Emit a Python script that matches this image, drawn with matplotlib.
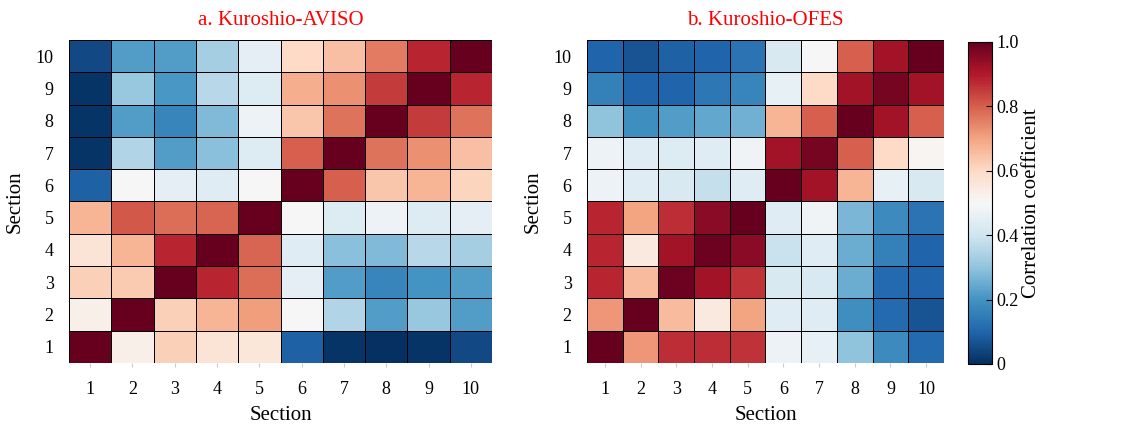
import matplotlib.pyplot as plt
import numpy as np

plt.rcParams["font.family"] = ["Liberation Serif", "DejaVu Serif"]

sections = [1, 2, 3, 4, 5, 6, 7, 8, 9, 10]

# rows are section 1..10 (bottom to top), columns section 1..10
aviso = np.array([
    [1.00, 0.53, 0.62, 0.57, 0.56, 0.09, 0.01, 0.00, 0.01, 0.05],
    [0.53, 1.00, 0.62, 0.67, 0.71, 0.50, 0.35, 0.22, 0.31, 0.22],
    [0.62, 0.63, 1.00, 0.88, 0.78, 0.45, 0.22, 0.17, 0.20, 0.22],
    [0.57, 0.67, 0.88, 1.00, 0.79, 0.44, 0.29, 0.28, 0.36, 0.33],
    [0.67, 0.81, 0.78, 0.79, 1.00, 0.50, 0.43, 0.47, 0.43, 0.45],
    [0.09, 0.50, 0.45, 0.44, 0.50, 1.00, 0.80, 0.64, 0.67, 0.61],
    [0.01, 0.35, 0.22, 0.29, 0.43, 0.80, 1.00, 0.77, 0.73, 0.65],
    [0.01, 0.22, 0.17, 0.28, 0.47, 0.64, 0.77, 1.00, 0.85, 0.77],
    [0.01, 0.31, 0.21, 0.36, 0.43, 0.68, 0.73, 0.85, 1.00, 0.88],
    [0.05, 0.22, 0.22, 0.33, 0.45, 0.60, 0.65, 0.76, 0.88, 1.00],
])

ofes = np.array([
    [1.00, 0.72, 0.87, 0.87, 0.86, 0.47, 0.46, 0.30, 0.18, 0.11],
    [0.72, 1.00, 0.66, 0.55, 0.70, 0.44, 0.44, 0.19, 0.11, 0.07],
    [0.88, 0.66, 0.99, 0.92, 0.86, 0.42, 0.42, 0.25, 0.11, 0.10],
    [0.88, 0.55, 0.92, 0.99, 0.95, 0.39, 0.44, 0.25, 0.16, 0.10],
    [0.88, 0.70, 0.87, 0.95, 1.00, 0.44, 0.48, 0.27, 0.18, 0.13],
    [0.47, 0.44, 0.42, 0.38, 0.44, 1.00, 0.92, 0.67, 0.46, 0.42],
    [0.47, 0.44, 0.43, 0.44, 0.48, 0.92, 0.98, 0.80, 0.60, 0.51],
    [0.30, 0.19, 0.22, 0.24, 0.26, 0.67, 0.80, 1.00, 0.92, 0.80],
    [0.16, 0.10, 0.10, 0.14, 0.17, 0.46, 0.60, 0.92, 0.98, 0.92],
    [0.10, 0.07, 0.09, 0.10, 0.13, 0.42, 0.50, 0.80, 0.92, 1.00],
])

panels = [("a. Kuroshio-AVISO", aviso), ("b. Kuroshio-OFES", ofes)]
cbar_ticks = [0, 0.2, 0.4, 0.6, 0.8, 1.0]
cbar_labels = ["0", "0.2", "0.4", "0.6", "0.8", "1.0"]

fig = plt.figure(figsize=(11.37, 4.25), dpi=100)
axes = [fig.add_axes([69 / 1137, 1 - 363 / 425, 423 / 1137, 323 / 425]),
        fig.add_axes([587 / 1137, 1 - 363 / 425, 357 / 1137, 323 / 425])]
cax = fig.add_axes([968 / 1137, 1 - 364 / 425, 24 / 1137, 322 / 425])

edges = np.arange(len(sections) + 1) + 0.5
for ax, (title, mat) in zip(axes, panels):
    mesh = ax.pcolormesh(edges, edges, mat, cmap="RdBu_r", vmin=0, vmax=1,
                         edgecolors="black", linewidth=0.55)
    ax.set_xticks(sections)
    ax.set_yticks(sections)
    ax.set_xticklabels([str(s) for s in sections], fontsize=13)
    ax.set_yticklabels([str(s) for s in sections], fontsize=13)
    ax.tick_params(axis="x", length=3, color="#cccccc", pad=10)
    ax.tick_params(axis="y", length=0, pad=11)
    for sp in ax.spines.values():
        sp.set_visible(False)
    ax.set_xlabel("Section", fontsize=15, labelpad=6)
    ax.set_ylabel("Section", fontsize=15, labelpad=8)
    ax.set_title(title, color="red", fontsize=15, pad=11)

cb = fig.colorbar(mesh, cax=cax)
cb.set_ticks(cbar_ticks)
cb.set_ticklabels(cbar_labels)
cb.ax.tick_params(labelsize=13, direction="in", length=4)
cb.outline.set_linewidth(0.8)
cb.set_label("Correlation coefficient", fontsize=15, labelpad=2)

fig.savefig("out.png", dpi=100)
